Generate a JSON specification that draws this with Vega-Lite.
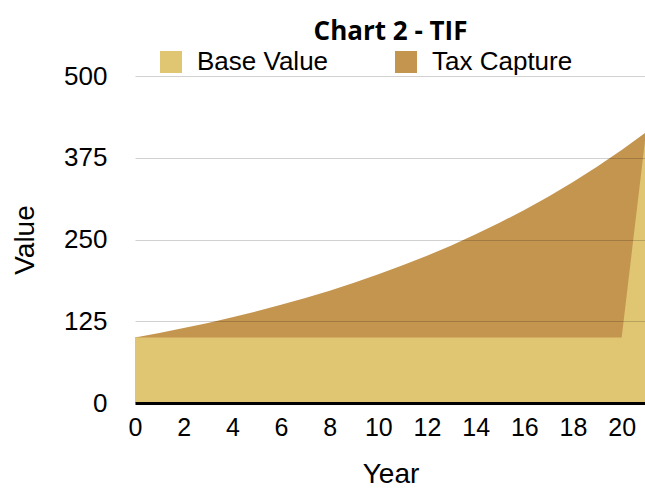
{
  "$schema": "https://vega.github.io/schema/vega-lite/v6.json",
  "width": 511,
  "height": 327,
  "autosize": "none",
  "padding": {"left": 135, "top": 76, "right": 0, "bottom": 86},
  "background": "white",
  "title": {
    "text": "Chart 2 - TIF",
    "font": "Open Sans",
    "fontSize": 26,
    "fontWeight": "bold",
    "color": "#000",
    "anchor": "middle",
    "offset": 4
  },
  "data": {
    "values": [
      {"Year": 0, "Series": "Tax Capture", "Value": 100},
      {"Year": 1, "Series": "Tax Capture", "Value": 107},
      {"Year": 2, "Series": "Tax Capture", "Value": 114.5},
      {"Year": 3, "Series": "Tax Capture", "Value": 122.5},
      {"Year": 4, "Series": "Tax Capture", "Value": 131.1},
      {"Year": 5, "Series": "Tax Capture", "Value": 140.3},
      {"Year": 6, "Series": "Tax Capture", "Value": 150.1},
      {"Year": 7, "Series": "Tax Capture", "Value": 160.6},
      {"Year": 8, "Series": "Tax Capture", "Value": 171.8},
      {"Year": 9, "Series": "Tax Capture", "Value": 183.8},
      {"Year": 10, "Series": "Tax Capture", "Value": 196.7},
      {"Year": 11, "Series": "Tax Capture", "Value": 210.5},
      {"Year": 12, "Series": "Tax Capture", "Value": 225.2},
      {"Year": 13, "Series": "Tax Capture", "Value": 241},
      {"Year": 14, "Series": "Tax Capture", "Value": 257.9},
      {"Year": 15, "Series": "Tax Capture", "Value": 275.9},
      {"Year": 16, "Series": "Tax Capture", "Value": 295.2},
      {"Year": 17, "Series": "Tax Capture", "Value": 315.9},
      {"Year": 18, "Series": "Tax Capture", "Value": 338},
      {"Year": 19, "Series": "Tax Capture", "Value": 361.7},
      {"Year": 20, "Series": "Tax Capture", "Value": 387},
      {"Year": 21, "Series": "Tax Capture", "Value": 414},
      {"Year": 0, "Series": "Base Value", "Value": 100},
      {"Year": 1, "Series": "Base Value", "Value": 100},
      {"Year": 2, "Series": "Base Value", "Value": 100},
      {"Year": 3, "Series": "Base Value", "Value": 100},
      {"Year": 4, "Series": "Base Value", "Value": 100},
      {"Year": 5, "Series": "Base Value", "Value": 100},
      {"Year": 6, "Series": "Base Value", "Value": 100},
      {"Year": 7, "Series": "Base Value", "Value": 100},
      {"Year": 8, "Series": "Base Value", "Value": 100},
      {"Year": 9, "Series": "Base Value", "Value": 100},
      {"Year": 10, "Series": "Base Value", "Value": 100},
      {"Year": 11, "Series": "Base Value", "Value": 100},
      {"Year": 12, "Series": "Base Value", "Value": 100},
      {"Year": 13, "Series": "Base Value", "Value": 100},
      {"Year": 14, "Series": "Base Value", "Value": 100},
      {"Year": 15, "Series": "Base Value", "Value": 100},
      {"Year": 16, "Series": "Base Value", "Value": 100},
      {"Year": 17, "Series": "Base Value", "Value": 100},
      {"Year": 18, "Series": "Base Value", "Value": 100},
      {"Year": 19, "Series": "Base Value", "Value": 100},
      {"Year": 20, "Series": "Base Value", "Value": 100},
      {"Year": 21, "Series": "Base Value", "Value": 414}
    ]
  },
  "encoding": {
    "x": {
      "field": "Year",
      "type": "quantitative",
      "scale": {"domain": [0, 21], "nice": false, "zero": false},
      "axis": {
        "title": "Year",
        "values": [0, 2, 4, 6, 8, 10, 12, 14, 16, 18, 20],
        "grid": false,
        "ticks": false,
        "domainColor": "#000",
        "domainWidth": 3,
        "labelFont": "Liberation Sans",
        "labelFontSize": 25,
        "labelColor": "#000",
        "labelPadding": 12,
        "labelFlush": false,
        "titleFont": "Liberation Sans",
        "titleFontSize": 28,
        "titleFontWeight": "normal",
        "titleColor": "#000",
        "titlePadding": 20,
        "zindex": 1
      }
    },
    "y": {
      "field": "Value",
      "type": "quantitative",
      "stack": null,
      "scale": {"domain": [0, 500], "nice": false},
      "axis": {
        "title": "Value",
        "values": [0, 125, 250, 375, 500],
        "domain": false,
        "ticks": false,
        "gridColor": "#000",
        "gridOpacity": 0.18,
        "gridWidth": 1,
        "labelFont": "Liberation Sans",
        "labelFontSize": 26,
        "labelColor": "#000",
        "labelPadding": 28,
        "titleFont": "Liberation Sans",
        "titleFontSize": 28,
        "titleFontWeight": "normal",
        "titleColor": "#000",
        "titlePadding": 24,
        "zindex": 1
      }
    },
    "color": {
      "field": "Series",
      "type": "nominal",
      "scale": {"domain": ["Base Value", "Tax Capture"], "range": ["#E0C672", "#C4954F"]},
      "legend": {
        "title": null,
        "orient": "none",
        "direction": "horizontal",
        "legendX": 23,
        "legendY": -27,
        "symbolType": "square",
        "symbolSize": 484,
        "symbolStrokeWidth": 0,
        "symbolOpacity": 1,
        "labelFont": "Liberation Sans",
        "labelFontSize": 26,
        "labelColor": "#000",
        "labelOffset": 13,
        "columnPadding": 64
      }
    }
  },
  "layer": [
    {
      "transform": [{"filter": "datum.Series == 'Tax Capture'"}],
      "mark": {"type": "area", "opacity": 1}
    },
    {
      "transform": [{"filter": "datum.Series == 'Base Value'"}],
      "mark": {"type": "area", "opacity": 1}
    }
  ],
  "config": {"view": {"stroke": null}}
}
